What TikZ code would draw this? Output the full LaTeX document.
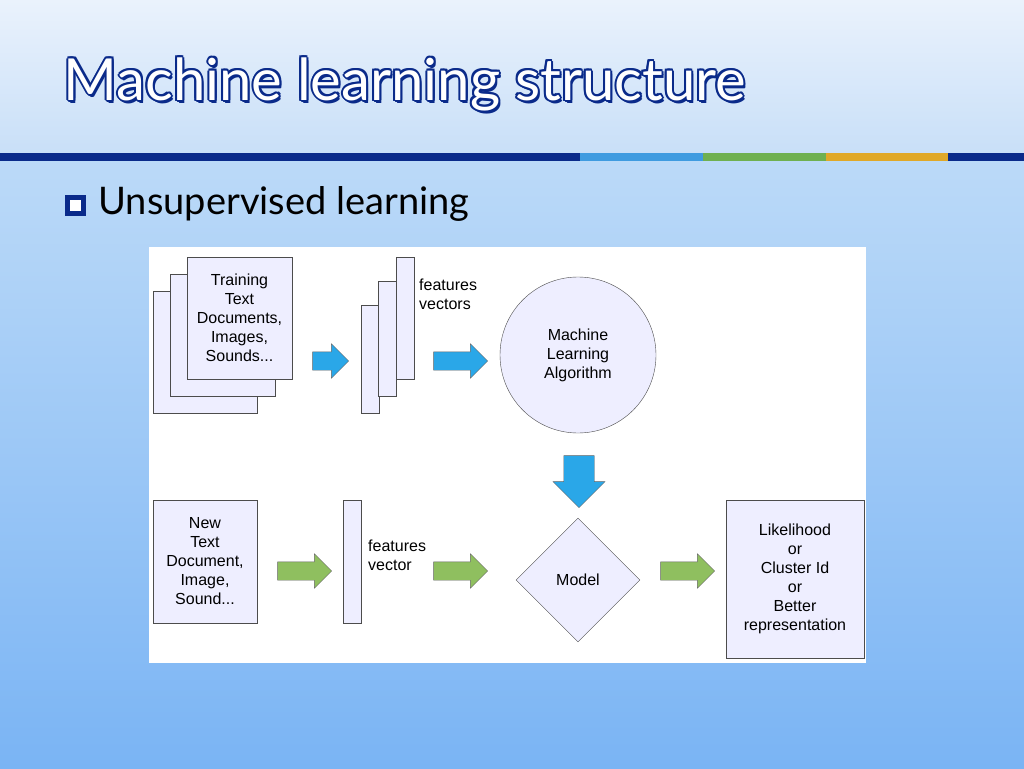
\documentclass[tikz,border=0pt]{standalone}
\usepackage{fontspec}
\setmainfont{Liberation Sans}
\newfontfamily\slidefont{Lato}
\usetikzlibrary{positioning,shapes.geometric,shapes.arrows}
\definecolor{navy}{HTML}{0A2A8A}
\definecolor{barblue}{HTML}{3F9BE0}
\definecolor{bargreen}{HTML}{6FB050}
\definecolor{barorange}{HTML}{E0A828}
\definecolor{boxfill}{HTML}{EEEEFF}
\definecolor{arrblue}{HTML}{2AA7E8}
\definecolor{arrgreen}{HTML}{8FBF5F}
\definecolor{topbg}{HTML}{EAF2FC}
\definecolor{midbg}{HTML}{C8DFF8}
\definecolor{lowbg}{HTML}{BCDAF8}
\definecolor{botbg}{HTML}{7AB4F4}
\tikzset{
  docbox/.style={draw=black!70, fill=boxfill, align=center, font=\fontsize{16}{19}\selectfont},
  barbox/.style={draw=black!70, fill=boxfill},
  blockarrow/.style={single arrow, draw=black!60, minimum height=36pt, minimum width=34pt, single arrow head extend=8pt, inner sep=9pt},
  bluearrow/.style={blockarrow, fill=arrblue},
  greenarrow/.style={blockarrow, fill=arrgreen},
  lbl/.style={align=left, font=\fontsize{16}{19}\selectfont, anchor=north west, inner sep=0pt},
  titletext/.style={anchor=west, font=\slidefont\fontsize{58}{62}\selectfont}
}
\begin{document}
\begin{tikzpicture}[x=1pt, y=-1pt]
  \useasboundingbox (0,0) rectangle (1024,768);
  % background
  \shade[top color=topbg, bottom color=midbg] (0,0) rectangle (1024,155);
  \shade[top color=lowbg, bottom color=botbg] (0,155) rectangle (1024,768);
  % colour bar
  \fill[navy] (0,153) rectangle (580,161);
  \fill[barblue] (580,153) rectangle (703,161);
  \fill[bargreen] (703,153) rectangle (826,161);
  \fill[barorange] (826,153) rectangle (948,161);
  \fill[navy] (948,153) rectangle (1024,161);
  % title with outline
  \foreach \dx/\dy in {-2/0,2/0,0/-2,0/2,-1.5/-1.5,1.5/1.5,-1.5/1.5,1.5/-1.5,2/3}
    \node [titletext, text=navy] at (60+\dx,84+\dy) {Machine learning structure};
  \node (title) [titletext, text=white] at (60,84) {Machine learning structure};
  % bullet
  \node (bullet) [draw=navy, fill=white, line width=5pt, minimum size=16pt, inner sep=0pt] at (75,205) {};
  \node (sub) [anchor=west, font=\slidefont\fontsize{38}{42}\selectfont] at (95,204) {Unsupervised learning};
  % panel
  \fill[white] (149,247) rectangle (866,663);

  % training documents
  \draw[barbox] (153,291) rectangle (257,413);
  \draw[barbox] (170,274) rectangle (275,396);
  \node (train) [docbox, minimum width=105pt, minimum height=122pt] at (239.5,318) {Training\\Text\\Documents,\\Images,\\Sounds...};
  \node (a1) [bluearrow] at (326,361) {};
  % feature vectors
  \draw[barbox] (361,305) rectangle (379,413);
  \draw[barbox] (378,281) rectangle (396,396);
  \node (fv) [barbox, minimum width=18pt, minimum height=122pt, inner sep=0pt] at (405,318) {};
  \node (fvlbl) [lbl] at (419,279) {features\\vectors};
  \node (a2) [bluearrow, minimum height=54pt] at (456,361) {};
  \node (mla) [circle, docbox, minimum size=156pt] at (578,355) {Machine\\Learning\\Algorithm};
  \node (a3) [bluearrow, shape border rotate=270, minimum height=52pt, minimum width=52pt, inner sep=14pt, single arrow head extend=10pt] at (579,474) {};

  % new document
  \node (new) [docbox, minimum width=104pt, minimum height=123pt] at (205,561.5) {New\\Text\\Document,\\Image,\\Sound...};
  \node (a4) [greenarrow, minimum height=54pt] at (300,571) {};
  \node (nfv) [barbox, minimum width=18pt, minimum height=123pt, inner sep=0pt] at (352,561.5) {};
  \node (nfvlbl) [lbl] at (368,540) {features\\vector};
  \node (a5) [greenarrow, minimum height=54pt] at (456,571) {};
  \node (model) [diamond, docbox, minimum size=124pt] at (578,580) {Model};
  \node (a6) [greenarrow, minimum height=54pt] at (683,571) {};
  \node (out) [docbox, minimum width=138pt, minimum height=158pt] at (795,579) {Likelihood\\or\\Cluster Id\\or\\Better\\representation};
\end{tikzpicture}
\end{document}
